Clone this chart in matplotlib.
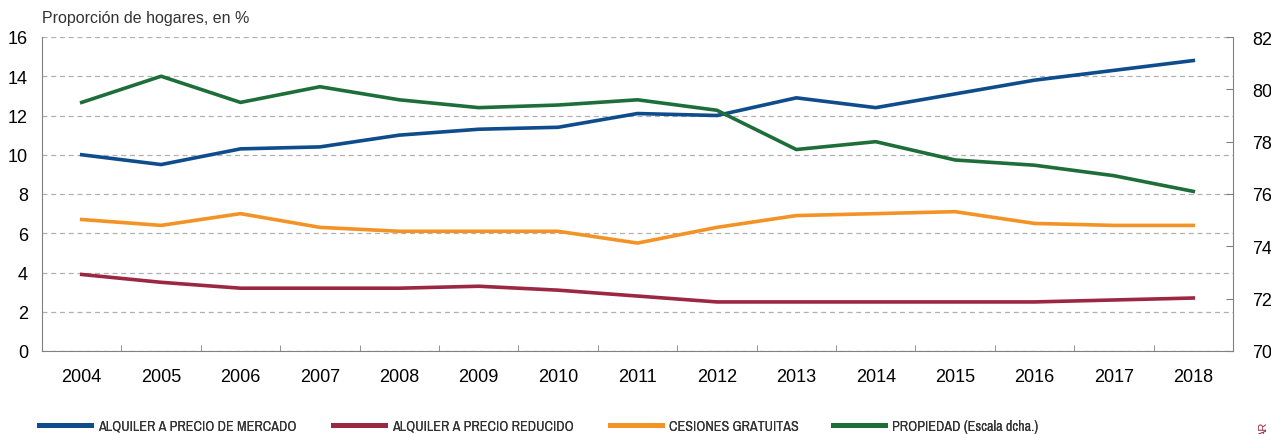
import numpy as np
import matplotlib.pyplot as plt
from matplotlib import font_manager
from matplotlib.lines import Line2D

years = [str(y) for y in range(2004, 2019)]
mercado = [10.0, 9.5, 10.3, 10.4, 11.0, 11.3, 11.4, 12.1, 12.0, 12.9, 12.4, 13.1, 13.8, 14.3, 14.8]
reducido = [3.9, 3.5, 3.2, 3.2, 3.2, 3.3, 3.1, 2.8, 2.5, 2.5, 2.5, 2.5, 2.5, 2.6, 2.7]
cesiones = [6.7, 6.4, 7.0, 6.3, 6.1, 6.1, 6.1, 5.5, 6.3, 6.9, 7.0, 7.1, 6.5, 6.4, 6.4]
propiedad = [79.5, 80.5, 79.5, 80.1, 79.6, 79.3, 79.4, 79.6, 79.2, 77.7, 78.0, 77.3, 77.1, 76.7, 76.1]
labels = ['ALQUILER A PRECIO DE MERCADO', 'ALQUILER A PRECIO REDUCIDO',
          'CESIONES GRATUITAS', 'PROPIEDAD (Escala dcha.)']
colors = ['#0f4c8c', '#9c2742', '#f39325', '#1e6e3a']

plt.rcParams['font.family'] = ['Liberation Sans', 'DejaVu Sans']

# legend text is set in a condensed face in the original; use one if there is any
narrow = None
for f in font_manager.fontManager.ttflist:
    if ('Narrow' in f.name or 'Condensed' in f.name) and 'Mono' not in f.name:
        narrow = f.name
        break
leg_family = [narrow, 'Liberation Sans'] if narrow else ['Liberation Sans']
leg_size = 10.2 if narrow else 9

fig = plt.figure(figsize=(12.71, 4.35), dpi=100)
ax = fig.add_axes([42 / 1271, 1 - 352 / 435, (1233 - 42) / 1271, (352 - 38) / 435])
x = np.arange(len(years))

ax.plot(x, mercado, color=colors[0], lw=2.6, zorder=3)
ax.plot(x, reducido, color=colors[1], lw=2.6, zorder=3)
ax.plot(x, cesiones, color=colors[2], lw=2.6, zorder=3)

ax.set_xlim(-0.5, len(years) - 0.5)
ax.set_ylim(0, 16)
ax.set_yticks(np.arange(0, 17, 2))
ax.yaxis.grid(True, ls=(0, (4, 3)), color='#b0b0b0', lw=0.9)
ax.set_axisbelow(True)
ax.tick_params(axis='y', length=0, labelsize=13, pad=10)
ax.set_xticks(x)
ax.set_xticklabels(years, fontsize=13)
ax.set_xticks(np.arange(-0.5, len(years), 1), minor=True)
ax.tick_params(axis='x', which='major', length=0, pad=12)
ax.tick_params(axis='x', which='minor', length=4, direction='in', color='#808080')
for s in ['left', 'bottom']:
    ax.spines[s].set_color('#808080')
ax.spines['top'].set_visible(False)
ax.spines['right'].set_visible(False)

ax2 = ax.twinx()
ax2.plot(x, propiedad, color=colors[3], lw=2.6, zorder=3)
ax2.set_ylim(70, 82)
ax2.set_yticks(np.arange(70, 83, 2))
ax2.tick_params(axis='y', length=5, direction='in', color='#808080', labelsize=13, pad=14)
ax2.spines['right'].set_color('#808080')
ax2.spines['top'].set_visible(False)
ax2.spines['left'].set_visible(False)
ax2.spines['bottom'].set_visible(False)

fig.text(42 / 1271, 1 - 18 / 435, 'Proporción de hogares, en %', fontsize=11.5,
         color='#333333', va='center', ha='left')

# one legend per entry, placed like the reference
em = leg_size * 100 / 72
leg_x = [39, 333, 610, 833]
for lx, lab, c in zip(leg_x, labels, colors):
    lg = fig.legend([Line2D([0], [0], color=c, lw=3.6)], [lab], loc='center left',
                    bbox_to_anchor=(lx / 1271, 1 - 427 / 435), frameon=False,
                    prop={'family': leg_family, 'size': leg_size},
                    handlelength=52 / em, handletextpad=7 / em,
                    borderpad=0, borderaxespad=0)
    for t in lg.get_texts():
        t.set_color('#333333')
    fig.add_artist(lg)

fig.text(1264 / 1271, 1 - 429 / 435, 'AR', rotation=90, fontsize=8, color='#9c2742',
         va='center', ha='center')

fig.savefig('out.png', dpi=100)
